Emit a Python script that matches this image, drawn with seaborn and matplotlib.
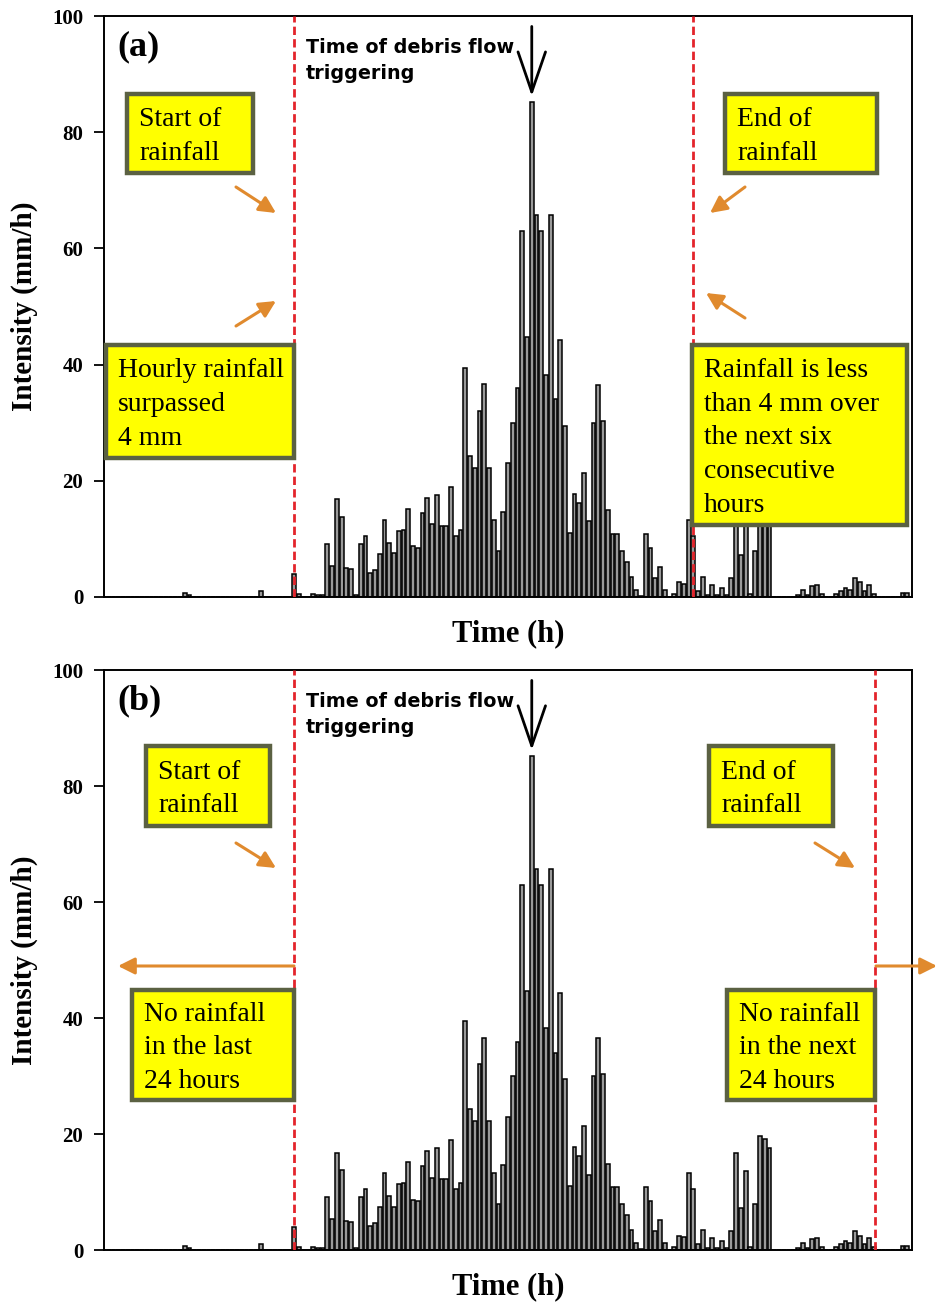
import numpy as np
import pandas as pd
import matplotlib
matplotlib.use("Agg")
import matplotlib.pyplot as plt
from matplotlib.patches import Rectangle
import seaborn as sns

# ---------------- data ----------------
hours = list(range(1, 171))
intensity = [
    # 1-20
    0, 0, 0, 0, 0, 0, 0, 0, 0, 0, 0, 0, 0, 0, 0, 0, 0, 0.7, 0.4, 0,
    # 21-40
    0, 0, 0, 0, 0, 0, 0, 0, 0, 0, 0, 0, 0, 1.0, 0, 0, 0, 0, 0, 0,
    # 41-60
    4.0, 0.5, 0, 0, 0.5, 0.3, 0.3, 9.2, 5.3, 16.8, 13.8, 5.0, 4.8, 0.3, 9.1, 10.5, 4.1, 4.7, 7.4, 13.3,
    # 61-80
    9.3, 7.5, 11.3, 11.5, 15.2, 8.7, 8.4, 14.5, 17.1, 12.5, 17.6, 12.3, 12.2, 19.0, 10.5, 11.5, 39.5, 24.3, 22.2, 32.0,
    # 81-100
    36.6, 22.2, 13.2, 7.9, 14.7, 23.0, 30.0, 35.9, 63.0, 44.7, 85.2, 65.7, 63.0, 38.2, 65.7, 34.0, 44.3, 29.4, 11.1, 17.8,
    # 101-120
    16.2, 21.4, 13.0, 30.0, 36.5, 30.3, 14.9, 10.9, 10.9, 7.9, 6.0, 3.5, 1.2, 0.2, 10.9, 8.5, 3.3, 5.1, 1.2, 0,
    # 121-140
    0.5, 2.5, 2.3, 13.3, 10.5, 1.0, 3.4, 0.3, 2.0, 0.3, 1.5, 0.3, 3.3, 16.7, 7.3, 13.7, 0.5, 8.0, 19.7, 19.1,
    # 141-160
    17.6, 0, 0, 0, 0, 0, 0.3, 1.2, 0.3, 1.9, 2.0, 0.5, 0, 0, 0.5, 1.0, 1.5, 1.2, 3.3, 2.5,
    # 161-170
    1.0, 2.0, 0.5, 0, 0, 0, 0, 0, 0.7, 0.7,
]
y_ticks = [0, 20, 40, 60, 80, 100]
trigger_hour = 91
start_hour = 41
end_hour_a = 125
end_hour_b = 163.3

panel_labels = ["(a)", "(b)"]
trigger_text = "Time of debris flow\ntriggering"
boxes_a = ["Start of\nrainfall", "Hourly rainfall\nsurpassed\n4 mm",
           "End of\nrainfall", "Rainfall is less\nthan 4 mm over\nthe next six\nconsecutive\nhours"]
boxes_b = ["Start of\nrainfall", "No rainfall\nin the last\n24 hours",
           "End of\nrainfall", "No rainfall\nin the next\n24 hours"]

df = pd.DataFrame({"hour": hours, "intensity": intensity})

# ---------------- style ----------------
sns.set_style("ticks")
plt.rcParams["font.family"] = ["Liberation Serif", "DejaVu Serif"]
plt.rcParams.update({
    "text.color": "black",
    "axes.labelcolor": "black",
    "axes.edgecolor": "black",
    "xtick.color": "black",
    "ytick.color": "black",
})

W, H = 937, 1305
fig = plt.figure(figsize=(W / 100, H / 100), dpi=100)

ORANGE = "#E08A2E"
RED = "#E3242B"
BOXFACE = "#FFFF00"
BOXEDGE = "#5B6142"

def make_panel(top_px, bottom_px, label, end_hour, boxes, box_px, arrows_px):
    left_px, right_px = 104, 912
    ax = fig.add_axes([left_px / W, 1 - bottom_px / H,
                       (right_px - left_px) / W, (bottom_px - top_px) / H])
    sns.barplot(data=df, x="hour", y="intensity", native_scale=True, ax=ax,
                color="#9a9a9a", edgecolor="black", linewidth=1.1,
                width=0.8, saturation=1, zorder=2)
    ax.set_xlim(1, 171)
    ax.set_ylim(0, 100)
    ax.set_yticks(y_ticks)
    ax.set_yticklabels([str(t) for t in y_ticks], fontsize=15, fontweight="bold")
    ax.set_xticks([])
    ax.tick_params(axis="y", length=7, width=1.3, direction="out", pad=8)
    for s in ax.spines.values():
        s.set_visible(True)
        s.set_linewidth(1.4)
        s.set_color("black")
    ax.set_xlabel("Time (h)", fontsize=22, fontweight="bold", labelpad=16)
    ax.set_ylabel("Intensity (mm/h)", fontsize=21, fontweight="bold", labelpad=10)

    ax.axvline(start_hour, color=RED, lw=2.0, ls=(0, (3.0, 1.5)), zorder=3)
    ax.axvline(end_hour, color=RED, lw=2.0, ls=(0, (3.0, 1.5)), zorder=3)

    axw = right_px - left_px
    axh = bottom_px - top_px
    def fx(x):
        return (x - left_px) / axw
    def fy(y):
        return (bottom_px - y) / axh

    ax.text(fx(117), fy(top_px + 31), label, transform=ax.transAxes,
            fontsize=26, fontweight="bold", va="center", ha="left")
    ax.text(fx(306), fy(top_px + 22), trigger_text, transform=ax.transAxes,
            family=["DejaVu Sans"], fontsize=13.8, fontweight="bold",
            va="top", ha="left", linespacing=1.45)
    ax.annotate("", xy=(trigger_hour, 86.2), xytext=(trigger_hour, 98.2),
                xycoords="data", textcoords="data",
                arrowprops=dict(arrowstyle="->,head_length=1.6,head_width=0.55",
                                color="black", lw=2.0, shrinkA=0, shrinkB=0,
                                mutation_scale=18),
                annotation_clip=False)

    for txt, (x0, y0, x1, y1) in zip(boxes, box_px):
        rect = Rectangle((fx(x0), fy(y1)), fx(x1) - fx(x0), fy(y0) - fy(y1),
                         transform=ax.transAxes, facecolor=BOXFACE,
                         edgecolor=BOXEDGE, lw=3.2, zorder=6, clip_on=False)
        ax.add_patch(rect)
        ax.text(fx(x0 + 12), fy((y0 + y1) / 2 + 3), txt, transform=ax.transAxes,
                fontsize=20, va="center", ha="left", linespacing=1.45, zorder=7)

    for (x0, y0, x1, y1) in arrows_px:
        ax.annotate("", xy=(fx(x1), fy(y1)), xytext=(fx(x0), fy(y0)),
                    xycoords="axes fraction", textcoords="axes fraction",
                    arrowprops=dict(arrowstyle="-|>,head_length=0.5,head_width=0.25",
                                    color=ORANGE, lw=2.2, shrinkA=0, shrinkB=0,
                                    mutation_scale=20),
                    annotation_clip=False, zorder=8)
    return ax

make_panel(16, 597, panel_labels[0], end_hour_a, boxes_a,
           [(127, 94, 253, 173), (106, 345, 294, 458),
            (725, 94, 877, 173), (692, 345, 907, 525)],
           [(236, 187, 276, 213), (236, 326, 276, 301),
            (745, 187, 710, 213), (745, 318, 706, 293)])

make_panel(670, 1250, panel_labels[1], end_hour_b, boxes_b,
           [(146, 746, 270, 826), (132, 990, 294, 1100),
            (709, 746, 833, 826), (727, 990, 875, 1100)],
           [(236, 843, 276, 868), (294, 966, 118, 966),
            (815, 843, 855, 868), (876, 966, 937, 966)])

fig.savefig("out.png", dpi=100)
